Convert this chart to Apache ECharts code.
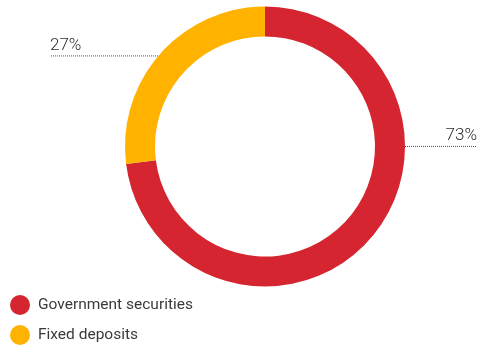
<!DOCTYPE html>
<html>
<head>
<meta charset="utf-8">
<script src="https://cdn.jsdelivr.net/npm/echarts@6/dist/echarts.min.js"></script>
<style>
  html, body { margin: 0; padding: 0; background: #ffffff; }
  #chart { width: 479px; height: 347px; }
</style>
</head>
<body>
<div id="chart"></div>
<script>
// Portfolio allocation by instrument type (percent)
const categories = ['Government securities', 'Fixed deposits'];
const shares = [73, 27];
const colors = ['#d42530', '#ffb300'];

// Ring geometry
const CX = 265, CY = 146.5, R_OUT = 140, R_IN = 110;
const LEFT_EDGE = 50, RIGHT_EDGE = 477;

const chart = echarts.init(document.getElementById('chart'), null, { renderer: 'canvas' });

const total = shares.reduce((a, b) => a + b, 0);

function labelPlacement(params) {
  const i = params.dataIndex;
  if (i === 0) {
    // first slice: label on the right, leader from the ring's 3 o'clock point
    const y = CY;
    return {
      x: RIGHT_EDGE,
      y: y - 2,
      align: 'right',
      verticalAlign: 'bottom',
      labelLinePoints: [[CX + R_OUT, y], [CX + R_OUT, y], [RIGHT_EDGE, y]]
    };
  }
  // other slices: leader from mid-angle on the outer edge out to the left
  let before = 0;
  for (let k = 0; k < i; k++) before += shares[k];
  const mid = (before + shares[i] / 2) / total * Math.PI * 2;
  const px = CX + R_OUT * Math.sin(mid);
  const py = CY - R_OUT * Math.cos(mid) + 2;
  return {
    x: LEFT_EDGE,
    y: py - 2,
    align: 'left',
    verticalAlign: 'bottom',
    labelLinePoints: [[px, py], [px, py], [LEFT_EDGE, py]]
  };
}

chart.setOption({
  animation: false,
  color: colors,
  legend: {
    orient: 'vertical',
    left: 10,
    top: 295,
    padding: 0,
    icon: 'circle',
    itemWidth: 20,
    itemHeight: 20,
    itemGap: 10,
    selectedMode: false,
    data: categories,
    textStyle: {
      fontFamily: 'Roboto',
      fontSize: 15.5,
      color: '#3a3a3a',
      padding: [0, 0, 0, 3]
    }
  },
  series: [{
    type: 'pie',
    center: [CX, CY],
    radius: [R_IN, R_OUT],
    startAngle: 90,
    clockwise: true,
    silent: true,
    itemStyle: { borderWidth: 0 },
    label: {
      show: true,
      formatter: '{c}%',
      fontFamily: 'Roboto',
      fontWeight: 300,
      fontSize: 17,
      color: '#2e2e2e',
      padding: 0
    },
    labelLine: {
      show: true,
      lineStyle: { color: '#555555', width: 1, type: 'dotted' }
    },
    labelLayout: labelPlacement,
    data: categories.map((name, i) => ({ name: name, value: shares[i] }))
  }]
});
</script>
</body>
</html>
